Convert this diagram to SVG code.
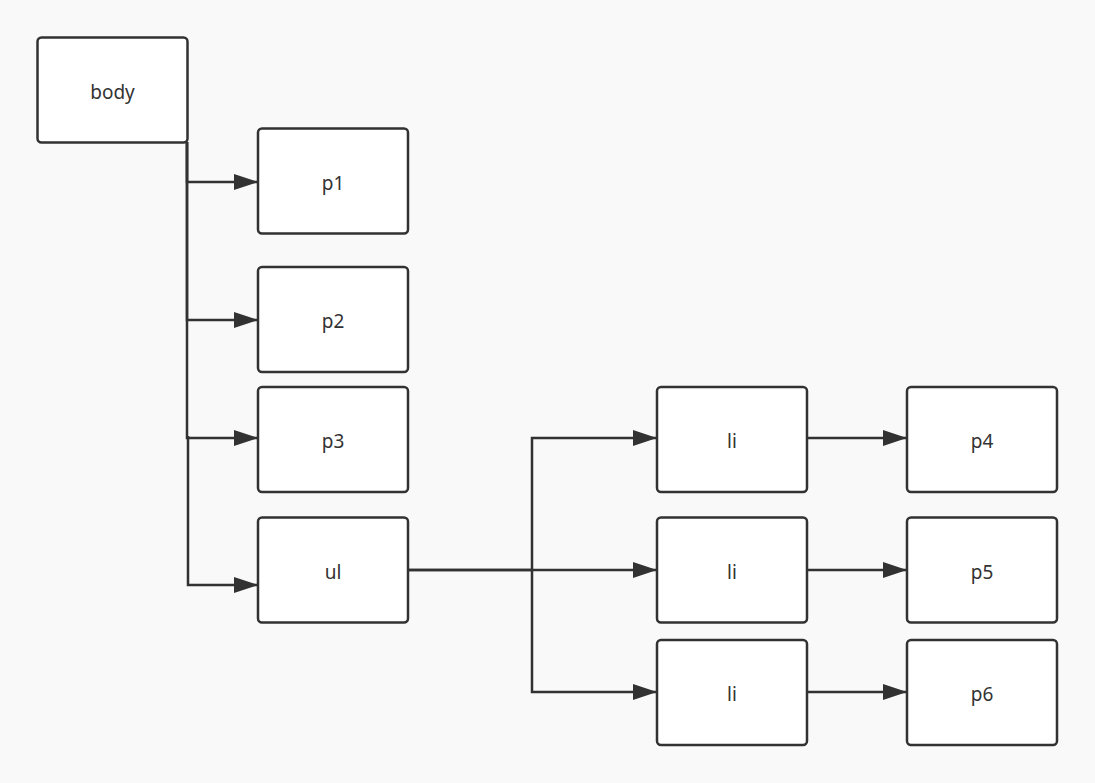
<svg xmlns="http://www.w3.org/2000/svg" width="1095" height="783" viewBox="0 0 1095 783">
<style>
.n rect{fill:#ffffff;stroke:#323232;stroke-width:2.5}
.n text{font-family:"Noto Sans","Open Sans",sans-serif;font-size:19px;fill:#333333;text-anchor:middle;dominant-baseline:central}
.c path{fill:none;stroke:#323232;stroke-width:2.5}
</style>
<defs>
<marker id="ah" markerWidth="24" markerHeight="16" refX="24" refY="8" orient="auto" markerUnits="userSpaceOnUse">
<path d="M0,0 L24,8 L0,16 Z" fill="#323232"/>
</marker>
</defs>
<rect width="1095" height="783" fill="#f9f9f9"/>
<g id="connectors" class="c">
<path d="M187,142 V182 H258" marker-end="url(#ah)"/>
<path d="M187,142 V320 H258" marker-end="url(#ah)"/>
<path d="M187,142 V438 H258" marker-end="url(#ah)"/>
<path d="M188,436 V585 H258" marker-end="url(#ah)"/>
<path d="M408,570 H532 V438 H657" marker-end="url(#ah)"/>
<path d="M408,570 H657" marker-end="url(#ah)"/>
<path d="M532,570 V692 H657" marker-end="url(#ah)"/>
<path d="M807,438 H907" marker-end="url(#ah)"/>
<path d="M807,570 H907" marker-end="url(#ah)"/>
<path d="M807,692 H907" marker-end="url(#ah)"/>
</g>
<g id="body" class="n"><rect x="37.5" y="37.5" width="150" height="105" rx="4"/><text x="112.5" y="92">body</text></g>
<g id="p1" class="n"><rect x="258" y="128.5" width="150" height="105" rx="4"/><text x="333" y="183">p1</text></g>
<g id="p2" class="n"><rect x="258" y="267" width="150" height="105" rx="4"/><text x="333" y="321">p2</text></g>
<g id="p3" class="n"><rect x="258" y="387" width="150" height="105" rx="4"/><text x="333" y="441">p3</text></g>
<g id="ul" class="n"><rect x="258" y="517.5" width="150" height="105" rx="4"/><text x="333" y="572">ul</text></g>
<g id="li1" class="n"><rect x="657" y="387" width="150" height="105" rx="4"/><text x="732" y="441">li</text></g>
<g id="li2" class="n"><rect x="657" y="517.5" width="150" height="105" rx="4"/><text x="732" y="572">li</text></g>
<g id="li3" class="n"><rect x="657" y="640" width="150" height="105" rx="4"/><text x="732" y="694">li</text></g>
<g id="p4" class="n"><rect x="907" y="387" width="150" height="105" rx="4"/><text x="982" y="441">p4</text></g>
<g id="p5" class="n"><rect x="907" y="517.5" width="150" height="105" rx="4"/><text x="982" y="572">p5</text></g>
<g id="p6" class="n"><rect x="907" y="640" width="150" height="105" rx="4"/><text x="982" y="694">p6</text></g>
</svg>
